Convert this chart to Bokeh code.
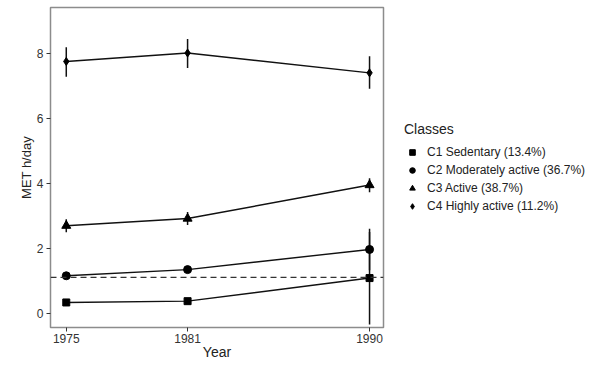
from bokeh.plotting import figure
from bokeh.layouts import row
from bokeh.models import Legend, LegendItem, Span, FixedTicker, Range1d, ColumnDataSource
from bokeh.embed import file_html
from bokeh.resources import INLINE

years = [1975, 1981, 1990]
classes = ["C1 Sedentary (13.4%)", "C2 Moderately active (36.7%)",
           "C3 Active (38.7%)", "C4 Highly active (11.2%)"]
c1_mean = [0.33, 0.37, 1.08]
c1_low = [0.30, 0.34, -0.35]
c1_high = [0.36, 0.40, 2.50]
c2_mean = [1.15, 1.34, 1.96]
c2_low = [1.10, 1.29, 1.32]
c2_high = [1.21, 1.39, 2.60]
c3_mean = [2.69, 2.91, 3.94]
c3_low = [2.49, 2.71, 3.72]
c3_high = [2.89, 3.11, 4.15]
c4_mean = [7.74, 8.00, 7.39]
c4_low = [7.27, 7.54, 6.90]
c4_high = [8.18, 8.43, 7.90]
reference_value = 1.1
y_ticks = [0, 2, 4, 6, 8]

FONT = "Liberation Sans"

p = figure(width=390, height=368, output_backend="svg", toolbar_location=None,
           x_range=Range1d(1974.22, 1990.69), y_range=Range1d(-0.44, 9.40),
           min_border_left=50, min_border_right=7, min_border_top=7, min_border_bottom=41)
p.grid.visible = False
p.outline_line_color = "#8c8c8c"
p.outline_line_width = 1.5
p.background_fill_color = "white"

for ax in (p.xaxis[0], p.yaxis[0]):
    ax.axis_line_color = None
    ax.major_tick_line_color = "#333333"
    ax.major_tick_line_width = 1
    ax.major_tick_out = 4
    ax.major_tick_in = 0
    ax.minor_tick_line_color = None
    ax.major_label_text_font = FONT
    ax.major_label_text_font_size = "12px"
    ax.major_label_text_color = "#333333"
    ax.axis_label_text_font = FONT
    ax.axis_label_text_font_style = "normal"
    ax.axis_label_text_color = "#222222"

p.xaxis.ticker = FixedTicker(ticks=years)
p.yaxis.ticker = FixedTicker(ticks=y_ticks)
p.xaxis.axis_label = "Year"
p.yaxis.axis_label = "MET h/day"
p.xaxis.axis_label_text_font_size = "14px"
p.yaxis.axis_label_text_font_size = "13px"
p.xaxis.major_label_standoff = 2
p.xaxis.axis_label_standoff = -2
p.yaxis.major_label_standoff = 3
p.yaxis.axis_label_standoff = 0

span = Span(location=reference_value, dimension="width", line_color="#333333",
            line_width=1.2, line_dash="6 4")
p.add_layout(span)

series = [
    (c1_mean, c1_low, c1_high, "square", 7),
    (c2_mean, c2_low, c2_high, "circle", 8),
    (c3_mean, c3_low, c3_high, "triangle", 9),
    (c4_mean, c4_low, c4_high, "diamond", 8),
]

# legend panel: a second figure whose (off-range) renderers serve only as legend glyphs
pl = figure(width=210, height=368, output_backend="svg", toolbar_location=None,
            x_range=Range1d(0, 1), y_range=Range1d(0, 1),
            min_border_left=0, min_border_right=0, min_border_top=0, min_border_bottom=0)
pl.axis.visible = False
pl.grid.visible = False
pl.outline_line_color = None

items = []
for (m, lo, hi, marker, size), name in zip(series, classes):
    src = ColumnDataSource(dict(x=years, y=m, lo=lo, hi=hi))
    p.segment(x0="x", y0="lo", x1="x", y1="hi", source=src, line_color="#111111", line_width=1.5)
    p.line("x", "y", source=src, line_color="#111111", line_width=1.4)
    p.scatter("x", "y", source=src, marker=marker, size=size,
              fill_color="black", line_color="black")
    r = pl.scatter("x", "y", source=src, marker=marker, size=size,
                   fill_color="black", line_color="black")
    items.append(LegendItem(label=name, renderers=[r]))

legend = Legend(items=items, location=(14, 114), title="Classes",
                title_text_font=FONT, title_text_font_size="14px", title_text_font_style="normal",
                title_text_color="#222222", title_standoff=8,
                label_text_font=FONT, label_text_font_size="12px", label_text_color="#222222",
                label_height=14, glyph_height=14, glyph_width=16, spacing=4, label_standoff=7,
                border_line_color=None, background_fill_alpha=0, padding=0, margin=0)
pl.add_layout(legend)

layout = row(p, pl, spacing=0)
open("out.html", "w").write(file_html(layout, INLINE))
